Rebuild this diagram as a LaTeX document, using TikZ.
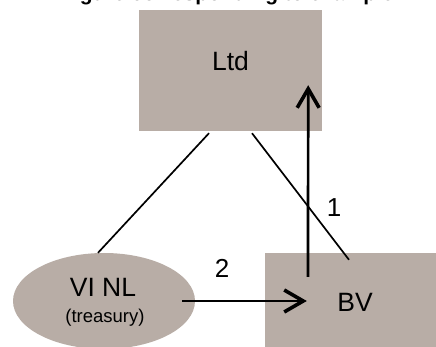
\documentclass[tikz,border=0pt]{standalone}
\usepackage{fontspec}
\setmainfont{Liberation Sans}
\usetikzlibrary{arrows.meta,shapes.geometric,calc}
\definecolor{entity}{RGB}{184,173,166}
\begin{document}
\begin{tikzpicture}[x=1pt,y=-1pt,
  entitybox/.style={fill=entity, draw=none, inner sep=0pt},
  entityname/.style={font=\fontsize{26.5}{30}\selectfont, inner sep=0pt},
  stepnum/.style={font=\fontsize{26}{30}\selectfont, inner sep=0pt},
  link/.style={line width=1.7pt},
  flow/.style={line width=2.7pt,
    -{Straight Barb[length=19pt,width=22pt,line width=3.6pt]}},
]
\useasboundingbox (0,0) rectangle (436,347);
\clip (0,0) rectangle (436,347);

% heading, mostly above the visible area
\node[font=\bfseries\fontsize{21}{24}\selectfont, anchor=base west,
      inner sep=0pt] (title) at (61,1) {Figure corresponding to example};

% entities
\node[entitybox, minimum width=183pt, minimum height=121pt] (ltd) at (230.5,70.5) {};
\node[entitybox, minimum width=181pt, minimum height=104pt] (bv) at (355.5,305) {};
\node[entitybox, ellipse, minimum width=182pt, minimum height=96pt] (vinl) at (104,301) {};

\node[entityname] (ltdname) at (230.5,61) {Ltd};
\node[entityname] (bvname) at (355,302) {BV};
\node[entityname] (vinlname) at (103,287) {VI NL};
\node[font=\fontsize{18.5}{22}\selectfont, inner sep=0pt] (vinlnote) at (105,318) {(treasury)};

% ownership links
\draw[link] ($(ltd.south)+(-21.5,2)$) -- ($(vinl.north)+(-6,0)$);
\draw[link] ($(ltd.south)+(21.5,2)$) -- ($(bv.north)+(-6.5,7)$);

% transaction steps
\draw[flow] ($(bv.north)+(-47.5,24)$) -- ($(ltd.south east)+(-14,-46)$);
\draw[flow] ($(vinl.east)+(-13,0)$) -- ($(bv.west)+(42,-4)$);

\node[stepnum] (one) at (334,208) {1};
\node[stepnum] (two) at (222,268) {2};
\end{tikzpicture}
\end{document}
